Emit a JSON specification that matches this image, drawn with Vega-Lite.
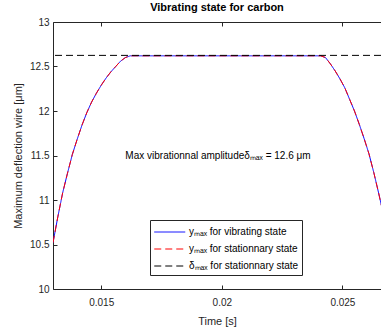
{
  "$schema": "https://vega.github.io/schema/vega-lite/v6.json",
  "width": 328,
  "height": 267,
  "autosize": {"type": "none"},
  "padding": {"left": 53, "top": 22, "right": 0, "bottom": 41},
  "background": "white",
  "title": {"text": "Vibrating state for carbon", "font": "Liberation Sans", "fontSize": 11, "fontWeight": "bold", "color": "#000000", "offset": 4},
  "config": {
    "view": {"stroke": null},
    "axis": {"grid": false, "labelFont": "Liberation Sans", "titleFont": "Liberation Sans", "labelFontSize": 10, "titleFontSize": 11, "titleFontWeight": "normal", "labelColor": "#262626", "titleColor": "#262626", "domainColor": "#262626", "tickColor": "#262626", "domainWidth": 1, "tickWidth": 1},
    "legend": {"labelFont": "Liberation Sans", "labelFontSize": 10, "labelColor": "#000000"}
  },
  "datasets": {
    "curve": [
      {"t": 0.0130, "vib": 10.52, "stat": 10.52},
      {"t": 0.0132, "vib": 10.81, "stat": 10.81},
      {"t": 0.0134, "vib": 11.08, "stat": 11.08},
      {"t": 0.0136, "vib": 11.30, "stat": 11.30},
      {"t": 0.0138, "vib": 11.51, "stat": 11.51},
      {"t": 0.0140, "vib": 11.68, "stat": 11.68},
      {"t": 0.0142, "vib": 11.84, "stat": 11.84},
      {"t": 0.0144, "vib": 11.98, "stat": 11.98},
      {"t": 0.0146, "vib": 12.10, "stat": 12.10},
      {"t": 0.0148, "vib": 12.20, "stat": 12.20},
      {"t": 0.0150, "vib": 12.29, "stat": 12.29},
      {"t": 0.0152, "vib": 12.37, "stat": 12.37},
      {"t": 0.0154, "vib": 12.44, "stat": 12.44},
      {"t": 0.0156, "vib": 12.50, "stat": 12.50},
      {"t": 0.0158, "vib": 12.56, "stat": 12.56},
      {"t": 0.0160, "vib": 12.60, "stat": 12.60},
      {"t": 0.0162, "vib": 12.62, "stat": 12.62},
      {"t": 0.0180, "vib": 12.62, "stat": 12.62},
      {"t": 0.0200, "vib": 12.62, "stat": 12.62},
      {"t": 0.0220, "vib": 12.62, "stat": 12.62},
      {"t": 0.0241, "vib": 12.62, "stat": 12.62},
      {"t": 0.0243, "vib": 12.60, "stat": 12.60},
      {"t": 0.0245, "vib": 12.53, "stat": 12.53},
      {"t": 0.0247, "vib": 12.45, "stat": 12.45},
      {"t": 0.0249, "vib": 12.36, "stat": 12.36},
      {"t": 0.0251, "vib": 12.26, "stat": 12.26},
      {"t": 0.0253, "vib": 12.13, "stat": 12.13},
      {"t": 0.0255, "vib": 12.00, "stat": 12.00},
      {"t": 0.0257, "vib": 11.85, "stat": 11.85},
      {"t": 0.0259, "vib": 11.69, "stat": 11.69},
      {"t": 0.0261, "vib": 11.52, "stat": 11.52},
      {"t": 0.0263, "vib": 11.31, "stat": 11.31},
      {"t": 0.0265, "vib": 11.08, "stat": 11.08},
      {"t": 0.0267, "vib": 10.84, "stat": 10.84}
    ],
    "ref": [{"series": "delta", "y": 12.625}],
    "note": [{"t": 0.016, "y": 11.5, "label": "Max vibrationnal amplitudeδₘₐₓ = 12.6 μm"}]
  },
  "layer": [
    {
      "data": {"name": "curve"},
      "transform": [{"fold": ["vib"], "as": ["series", "y"]}],
      "mark": {"type": "line", "strokeWidth": 1, "clip": true},
      "encoding": {
        "x": {"field": "t", "type": "quantitative", "scale": {"domain": [0.013, 0.0266], "nice": false, "zero": false},
          "axis": {"orient": "bottom", "values": [0.015, 0.02, 0.025], "format": ".3~f", "title": "Time [s]", "tickSize": -4, "labelPadding": 12, "titlePadding": 8}},
        "y": {"field": "y", "type": "quantitative", "scale": {"domain": [10, 13], "nice": false, "zero": false},
          "axis": {"orient": "left", "values": [10, 10.5, 11, 11.5, 12, 12.5, 13], "format": "~g", "title": "Maximum deflection wire [μm]", "tickSize": -4, "labelPadding": 8, "titlePadding": 6}},
        "color": {"field": "series", "type": "nominal", "scale": {"domain": ["vib", "stat", "delta"], "range": ["#0000ff", "#ff0000", "#000000"]},
          "legend": {"title": null, "orient": "none", "legendX": 97, "legendY": 198, "padding": 3.5, "strokeColor": "#262626", "fillColor": "#ffffff", "symbolType": "M -1 0 H 3", "symbolSize": 240, "symbolStrokeWidth": 1, "labelOffset": 18.5, "rowPadding": 3, "labelExpr": "datum.value === 'vib' ? 'yₘₐₓ for vibrating state' : datum.value === 'stat' ? 'yₘₐₓ for stationnary state' : 'δₘₐₓ for stationnary state'"}},
        "strokeDash": {"field": "series", "type": "nominal", "scale": {"domain": ["vib", "stat", "delta"], "range": [[1, 0], [7, 4], [7, 4]]},
          "legend": {"title": null, "orient": "none", "legendX": 97, "legendY": 198, "padding": 3.5, "strokeColor": "#262626", "fillColor": "#ffffff", "symbolType": "M -1 0 H 3", "symbolSize": 240, "symbolStrokeWidth": 1, "labelOffset": 18.5, "rowPadding": 3, "labelExpr": "datum.value === 'vib' ? 'yₘₐₓ for vibrating state' : datum.value === 'stat' ? 'yₘₐₓ for stationnary state' : 'δₘₐₓ for stationnary state'"}}
      }
    },
    {
      "data": {"name": "curve"},
      "transform": [{"fold": ["stat"], "as": ["series", "y"]}],
      "mark": {"type": "line", "strokeWidth": 1, "clip": true},
      "encoding": {
        "x": {"field": "t", "type": "quantitative", "axis": null},
        "y": {"field": "y", "type": "quantitative", "axis": null},
        "color": {"field": "series", "type": "nominal"},
        "strokeDash": {"field": "series", "type": "nominal"}
      }
    },
    {
      "data": {"name": "ref"},
      "mark": {"type": "rule", "strokeWidth": 1},
      "encoding": {
        "y": {"field": "y", "type": "quantitative", "axis": null},
        "color": {"field": "series", "type": "nominal"},
        "strokeDash": {"field": "series", "type": "nominal"}
      }
    },
    {
      "data": {"name": "note"},
      "mark": {"type": "text", "align": "left", "baseline": "middle", "font": "Liberation Sans", "fontSize": 10, "color": "#000000"},
      "encoding": {
        "x": {"field": "t", "type": "quantitative", "axis": {"orient": "top", "values": [0.015, 0.02, 0.025], "labels": false, "title": null, "tickSize": -4, "domain": true}},
        "y": {"field": "y", "type": "quantitative", "axis": null},
        "text": {"field": "label"}
      }
    }
  ],
  "resolve": {"axis": {"x": "independent", "y": "independent"}}
}
